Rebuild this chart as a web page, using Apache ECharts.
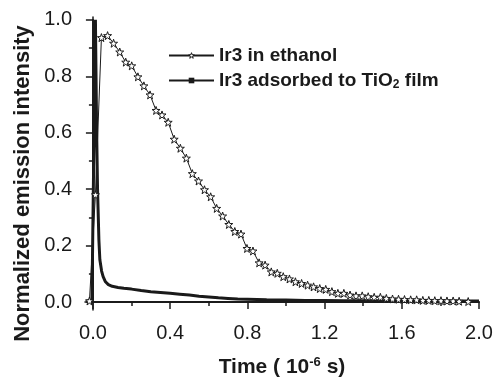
<!DOCTYPE html>
<html>
<head>
<meta charset="utf-8">
<script src="https://cdn.jsdelivr.net/npm/echarts@6/dist/echarts.min.js"></script>
<style>
html,body{margin:0;padding:0;background:#fff;}
#chart{width:493px;height:380px;}
</style>
</head>
<body>
<div id="chart"></div>
<script>
// Ir3 in ethanol (star markers)
var tEthanol = [-0.018, 0.013, 0.044, 0.076, 0.107, 0.139, 0.170, 0.201, 0.233, 0.264,
  0.296, 0.327, 0.358, 0.390, 0.421, 0.453, 0.484, 0.515, 0.547, 0.578,
  0.610, 0.641, 0.672, 0.704, 0.735, 0.767, 0.798, 0.829, 0.861, 0.892,
  0.924, 0.955, 0.986, 1.018, 1.049, 1.081, 1.112, 1.143, 1.175, 1.206,
  1.238, 1.269, 1.300, 1.332, 1.363, 1.395, 1.426, 1.457, 1.489, 1.520,
  1.552, 1.583, 1.614, 1.646, 1.677, 1.709, 1.740, 1.771, 1.803, 1.834,
  1.866, 1.897, 1.944];
var vEthanol = [0.004, 0.38, 0.937, 0.944, 0.917, 0.886, 0.850, 0.837, 0.798, 0.766,
  0.734, 0.679, 0.663, 0.637, 0.577, 0.545, 0.510, 0.455, 0.429, 0.398,
  0.373, 0.332, 0.305, 0.275, 0.250, 0.241, 0.190, 0.181, 0.139, 0.131,
  0.107, 0.102, 0.090, 0.082, 0.072, 0.066, 0.060, 0.054, 0.048, 0.045,
  0.037, 0.031, 0.031, 0.025, 0.022, 0.022, 0.019, 0.017, 0.017, 0.013,
  0.011, 0.010, 0.009, 0.008, 0.008, 0.006, 0.006, 0.005, 0.005, 0.004,
  0.004, 0.003, 0.002];

// Ir3 adsorbed to TiO2 film
var tFilm = [-0.035, -0.02, -0.005, 0.004, 0.008, 0.013, 0.019, 0.024, 0.031, 0.036,
  0.045, 0.053, 0.065, 0.08, 0.1, 0.13, 0.16, 0.2, 0.25, 0.3,
  0.35, 0.4, 0.45, 0.5, 0.55, 0.6, 0.65, 0.7, 0.75, 0.8,
  0.9, 1.0, 1.1, 1.2, 1.3, 1.4, 1.5, 1.6, 1.7, 1.8, 1.9, 2.0];
var vFilm = [0.005, 0.004, 0.006, 0.008, 0.72, 1.0, 0.62, 0.40, 0.22, 0.15,
  0.11, 0.09, 0.072, 0.062, 0.056, 0.052, 0.049, 0.046, 0.041, 0.037,
  0.034, 0.031, 0.028, 0.025, 0.021, 0.018, 0.015, 0.013, 0.011, 0.010,
  0.008, 0.007, 0.006, 0.006, 0.005, 0.005, 0.005, 0.005, 0.004, 0.004, 0.004, 0.004];

// axis ranges (data axes) and tick axes
var xRange = [-0.041, 2.0];
var yRange = [-0.028, 1.01];
var xTickRange = [0, 2.0];   // labelled 0.0 ... 2.0 every 0.4, minor every 0.2
var yTickRange = [0, 1.0];   // labelled 0.0 ... 1.0 every 0.2, minor every 0.1

var font = "'Liberation Sans', Arial, sans-serif";
var ink = '#1a1a1a';
var star = 'path://M0,-10 L2.35,-3.24 L9.51,-3.09 L3.8,1.24 L5.88,8.09 L0,4 L-5.88,8.09 L-3.8,1.24 L-9.51,-3.09 L-2.35,-3.24 Z';

function pairs(t, v) {
  var out = [];
  for (var i = 0; i < t.length; i++) out.push([t[i], v[i]]);
  return out;
}

// plot box in pixels
var W = 493, H = 380;
var box = {left: 85, right: 479, top: 17, bottom: 310};
function px(v) { return box.left + (v - xRange[0]) / (xRange[1] - xRange[0]) * (box.right - box.left); }
function py(v) { return box.bottom - (v - yRange[0]) / (yRange[1] - yRange[0]) * (box.bottom - box.top); }
var x0 = px(xTickRange[0]), x1 = px(xTickRange[1]);
var y0 = py(yTickRange[0]), y1 = py(yTickRange[1]);
var xOff = box.bottom - y0;   // push tick x-axis down onto the plot's bottom line
var yOff = x0 - box.left;     // push tick y-axis left onto the plot's left line

var chart = echarts.init(document.getElementById('chart'));
var line = {color: ink, width: 1.5};
function off() { return {show: false}; }
function fmt(v) { return v.toFixed(1); }

// tick axes live in a second grid whose range starts at 0, offset onto the data axes
function tickX(interval, len, labels) {
  return {
    type: 'value', gridIndex: 1, min: xTickRange[0], max: xTickRange[1], interval: interval,
    position: 'bottom', offset: xOff,
    axisLine: {show: true, lineStyle: line},
    axisTick: {show: true, inside: false, length: len, lineStyle: line},
    axisLabel: labels ? {show: true, fontFamily: font, fontSize: 20, color: ink, margin: 13, formatter: fmt} : off(),
    splitLine: off()
  };
}
function tickY(interval, len, labels) {
  return {
    type: 'value', gridIndex: 1, min: yTickRange[0], max: yTickRange[1], interval: interval,
    position: 'left', offset: yOff,
    axisLine: {show: true, lineStyle: line},
    axisTick: {show: true, inside: false, length: len, lineStyle: line},
    axisLabel: labels ? {show: true, fontFamily: font, fontSize: 20, color: ink, margin: 13, formatter: fmt} : off(),
    splitLine: off()
  };
}

var option = {
  animation: false,
  grid: [
    {left: box.left, right: W - box.right, top: box.top, bottom: H - box.bottom, outerBoundsMode: 'none'},
    {left: x0, right: W - x1, top: y1, bottom: H - y0, outerBoundsMode: 'none'}
  ],
  xAxis: [
    {
      type: 'value', gridIndex: 0, min: xRange[0], max: xRange[1],
      axisLine: {show: true, lineStyle: line},
      axisTick: off(), axisLabel: off(), splitLine: off(),
      name: '{t|Time ( 10}{sup|-6}{t| s)}',
      nameLocation: 'middle',
      nameGap: 46,
      nameTextStyle: {
        rich: {
          t: {fontFamily: font, fontSize: 21, fontWeight: 'bold', color: ink, lineHeight: 22},
          sup: {fontFamily: font, fontSize: 13, fontWeight: 'bold', color: ink, padding: [0, 0, 10, 0]}
        }
      }
    },
    tickX(0.4, 7, true),
    tickX(0.2, 4, false)
  ],
  yAxis: [
    {
      type: 'value', gridIndex: 0, min: yRange[0], max: yRange[1],
      axisLine: {show: true, lineStyle: line},
      axisTick: off(), axisLabel: off(), splitLine: off(),
      name: 'Normalized emission intensity',
      nameLocation: 'middle',
      nameGap: 51,
      nameTextStyle: {fontFamily: font, fontSize: 22, fontWeight: 'bold', color: ink, padding: [0, 40, 0, 0]}
    },
    tickY(0.2, 7, true),
    tickY(0.1, 4, false)
  ],
  legend: {
    orient: 'vertical',
    left: 168,
    top: 46,
    padding: 0,
    itemWidth: 45,
    itemHeight: 7,
    itemGap: 6,
    textStyle: {
      fontFamily: font, fontSize: 19, fontWeight: 'bold', color: ink,
      rich: {
        a: {fontFamily: font, fontSize: 19, fontWeight: 'bold', color: ink, lineHeight: 20},
        sub: {fontFamily: font, fontSize: 12, fontWeight: 'bold', color: ink, padding: [9, 0, 0, 0]}
      }
    },
    formatter: function (name) {
      if (name.indexOf('TiO') >= 0) return '{a|Ir3 adsorbed to TiO}{sub|2}{a| film}';
      return '{a|' + name + '}';
    },
    data: [
      {name: 'Ir3 in ethanol', itemStyle: {color: '#fff', borderColor: ink, borderWidth: 1}},
      {name: 'Ir3 adsorbed to TiO2 film'}
    ]
  },
  series: [
    {
      name: 'Ir3 in ethanol',
      type: 'line',
      xAxisIndex: 0, yAxisIndex: 0,
      data: pairs(tEthanol, vEthanol),
      symbol: star,
      symbolSize: 8,
      showAllSymbol: true,
      lineStyle: {color: ink, width: 1},
      itemStyle: {color: '#fff', borderColor: ink, borderWidth: 1},
      z: 3
    },
    {
      name: 'Ir3 adsorbed to TiO2 film',
      type: 'line',
      xAxisIndex: 0, yAxisIndex: 0,
      data: pairs(tFilm, vFilm),
      symbol: 'rect',
      symbolSize: 4,
      showSymbol: false,
      lineStyle: {color: ink, width: 3},
      itemStyle: {color: ink},
      z: 2
    }
  ]
};
chart.setOption(option);
</script>
</body>
</html>
